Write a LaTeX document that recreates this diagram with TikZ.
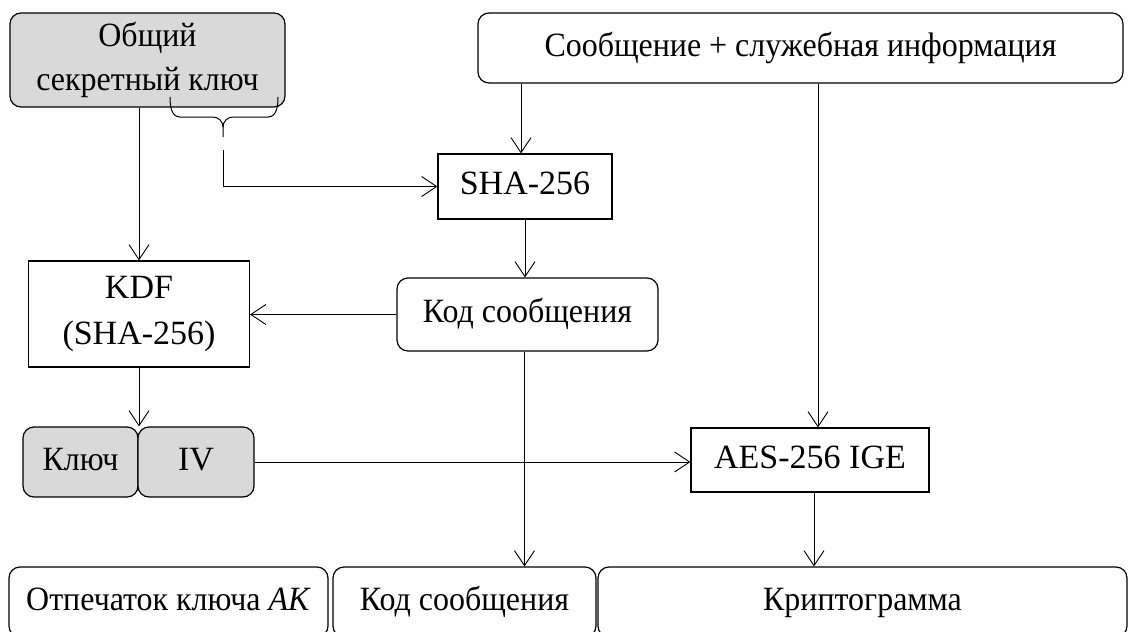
\documentclass[tikz,border=0pt]{standalone}
\usepackage{fontspec}
\setmainfont{Liberation Serif}
\newfontfamily\cyrfont{Liberation Serif}[FakeStretch=0.94]
\usetikzlibrary{arrows.meta}
\definecolor{boxgray}{HTML}{D9D9D9}
\tikzset{
  every picture/.style={x=1pt,y=1pt},
  base/.style={draw, line width=1.2pt, inner sep=0pt, align=center, font=\fontsize{34}{41}\selectfont},
  cyr/.style={font=\fontsize{34}{41}\cyrfont},
  one/.style={text height=23pt, text depth=7pt},
  rbox/.style={base, rounded corners=11pt},
  sbox/.style={base},
  gbox/.style={rbox, fill=boxgray},
  arr/.style={line width=0.9pt, -{Straight Barb[length=15pt,width=20pt,line width=0.9pt]}},
  ln/.style={line width=1pt}
}
\begin{document}
\begin{tikzpicture}
\path[use as bounding box] (0,0) rectangle (1133,-632);
\clip (0,0) rectangle (1133,-632);
\fill[white] (0,0) rectangle (1133,-632);
% nodes
\node[gbox, font=\fontsize{34}{44}\cyrfont, minimum width=275pt, minimum height=94pt] (key) at (147.5,-60) {Общий\\секретный ключ};
\node[rbox, cyr, one, minimum width=645pt, minimum height=70pt] (msg) at (800.5,-48) {Сообщение + служебная информация};
\node[sbox, one, minimum width=174pt, minimum height=65pt] (sha) at (525,-186.5) {SHA-256};
\node[rbox, cyr, one, minimum width=261pt, minimum height=73pt] (code) at (527.5,-314.5) {Код сообщения};
\node[sbox, minimum width=221pt, minimum height=106pt] (kdf) at (139,-314) {KDF\\[5pt](SHA-256)};
\node[gbox, cyr, one, minimum width=115pt, minimum height=70pt] (k) at (80.5,-462) {Ключ};
\node[gbox, one, minimum width=116pt, minimum height=70pt] (iv) at (196,-462) {IV};
\node[sbox, one, minimum width=238pt, minimum height=64pt] (aes) at (810,-460) {AES-256 IGE};
\node[rbox, cyr, one, minimum width=319pt, minimum height=70pt] (b1) at (168.5,-602) {Отпечаток ключа \textit{AK}};
\node[rbox, cyr, one, minimum width=263pt, minimum height=70pt] (b2) at (464.5,-602) {Код сообщения};
\node[rbox, cyr, one, minimum width=529pt, minimum height=70pt] (b3) at (862.5,-602) {Криптограмма};
% brace
\draw[ln] (170,-97) to[out=-90,in=180] (180,-117) -- (213,-117) to[out=0,in=90] (223,-127) -- (223,-137);
\draw[ln] (278,-97) to[out=-90,in=0] (268,-117) -- (233,-117) to[out=180,in=90] (223,-127);
\coordinate (bt) at (223,-150);
% connectors
\draw[arr] (bt) |- (sha.west);
\draw[arr] (kdf.north |- key.south) -- (kdf.north);
\draw[arr] ([xshift=-4pt]sha.north |- msg.south) -- ([xshift=-4pt]sha.north);
\draw[arr] ([xshift=8pt]aes.north |- msg.south) -- ([xshift=8pt]aes.north);
\draw[arr] (sha.south) -- (sha.south |- code.north);
\draw[arr] (code.west) -- (code.west -| kdf.east);
\draw[arr] ([xshift=-3pt]code.south) -- ([xshift=-3pt]code.south |- b2.north);
\draw[arr] (kdf.south) -- (kdf.south |- k.north);
\draw[arr] (iv.east) -- (iv.east -| aes.west);
\draw[arr] ([xshift=4pt]aes.south) -- ([xshift=4pt]aes.south |- b3.north);
\end{tikzpicture}
\end{document}
